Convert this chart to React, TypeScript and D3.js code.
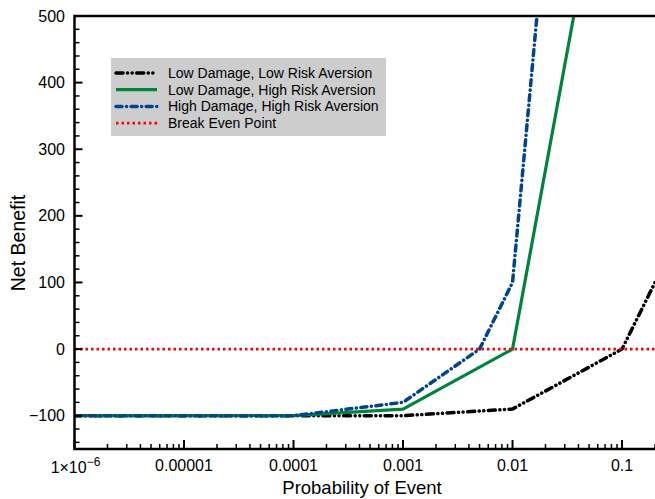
import React from 'react';
import * as d3 from 'd3';

// values
const probLowLow = [1e-6, 1e-5, 1e-4, 1e-3, 1e-2, 0.1, 0.2];
const netLowLow = [-100, -100, -100, -100, -90, 0, 100];

const probLowHigh = [1e-6, 1e-5, 1e-4, 1e-3, 1e-2, 0.05];
const netLowHigh = [-100, -100, -100, -90, 0, 625];

const probHighHigh = [1e-6, 1e-5, 1e-4, 1e-3, 5e-3, 1e-2, 0.02];
const netHighHigh = [-100, -100, -100, -80, 0, 100, 640];

const breakEven = 0;

const xTicks = [1e-6, 1e-5, 1e-4, 1e-3, 1e-2, 0.1];
const xTickLabels = ['1×10', '0.00001', '0.0001', '0.001', '0.01', '0.1'];
const yTicks = [-100, 0, 100, 200, 300, 400, 500];

const W = 655, H = 499;
const left = 74.5, right = 655, top = 16, bottom = 449;
const font = 'Liberation Sans, Arial, Helvetica, sans-serif';

export default function App() {
  const x = d3.scaleLog().domain([1e-6, 0.2]).range([left, right]);
  const y = d3.scaleLinear().domain([-150, 500]).range([bottom, top]);

  const line = d3.line<[number, number]>()
    .x(d => x(d[0]))
    .y(d => y(d[1]));
  const pts = (xs: number[], ys: number[]) => xs.map((v, i) => [v, ys[i]] as [number, number]);

  const series = [
    { label: 'Low Damage, Low Risk Aversion', d: pts(probLowLow, netLowLow), color: '#000000', dash: '7 4.5 0.1 4.5 0.1 4.5', cap: 'round', w: 3.5 },
    { label: 'Low Damage, High Risk Aversion', d: pts(probLowHigh, netLowHigh), color: '#00843d', dash: 'none', cap: 'butt', w: 3.2 },
    { label: 'High Damage, High Risk Aversion', d: pts(probHighHigh, netHighHigh), color: '#00448c', dash: '6 4.5 0.1 4.5', cap: 'round', w: 3.5 },
  ];

  // minor ticks
  const xMinor: number[] = [];
  for (let e = -6; e <= -1; e++) {
    for (let k = 2; k <= 9; k++) {
      const v = k * Math.pow(10, e);
      if (v <= 0.2) xMinor.push(v);
    }
  }
  const yMinor = d3.range(-140, 500, 20).filter(v => v % 100 !== 0);

  const legendRows = [
    ...series.map(s => ({ label: s.label, color: s.color, dash: s.dash, cap: s.cap, w: s.w })),
    { label: 'Break Even Point', color: '#ff0000', dash: '2.5 3', cap: 'butt', w: 2.6 },
  ];

  return (
    <svg width={W} height={H} style={{ position: 'absolute', left: 0, top: 0, background: '#fff' }} fontFamily={font}>
      <defs>
        <clipPath id="plot">
          <rect x={left} y={top} width={right - left} height={bottom - top} />
        </clipPath>
      </defs>

      {/* legend box */}
      <rect x={111} y={58} width={275} height={78} fill="#cdcdcd" />
      {legendRows.map((r, i) => {
        const cy = 73 + i * 16.7;
        return (
          <g key={r.label}>
            <line x1={116} x2={157} y1={cy} y2={cy} stroke={r.color} strokeWidth={r.w}
              strokeDasharray={r.dash} strokeLinecap={r.cap as any} />
            <text x={168} y={cy + 5} fontSize={14} fill="#000">{r.label}</text>
          </g>
        );
      })}

      <g clipPath="url(#plot)">
        {series.map(s => (
          <path key={s.label} d={line(s.d) || ''} fill="none" stroke={s.color} strokeWidth={s.w}
            strokeDasharray={s.dash} strokeLinecap={s.cap as any} strokeLinejoin="round" />
        ))}
        <line x1={left} x2={right} y1={y(breakEven)} y2={y(breakEven)} stroke="#ff0000"
          strokeWidth={2.6} strokeDasharray="2.5 3" />
      </g>

      {/* frame */}
      <path d={`M${right},${top}H${left}V${bottom}H${right}`} fill="none" stroke="#000" strokeWidth={2.5} />

      {/* y ticks */}
      {yTicks.map(v => (
        <g key={'y' + v}>
          <line x1={left} x2={left + 8} y1={y(v)} y2={y(v)} stroke="#000" strokeWidth={2} />
          <text x={65} y={y(v) + 5.5} fontSize={16} textAnchor="end">{v < 0 ? '\u2212' + Math.abs(v) : v}</text>
        </g>
      ))}
      {yMinor.map(v => (
        <line key={'ym' + v} x1={left} x2={left + 5} y1={y(v)} y2={y(v)} stroke="#000" strokeWidth={1.5} />
      ))}

      {/* x ticks */}
      {xTicks.map((v, i) => (
        <g key={'x' + v}>
          <line x1={x(v)} x2={x(v)} y1={bottom} y2={bottom - 9} stroke="#000" strokeWidth={2} />
          {i === 0 ? (
            <text x={x(v) + 1} y={473} fontSize={16} textAnchor="middle">
              {xTickLabels[i]}<tspan fontSize={12} dy={-7}>{'\u22126'}</tspan>
            </text>
          ) : (
            <text x={x(v)} y={471} fontSize={16} textAnchor="middle">{xTickLabels[i]}</text>
          )}
        </g>
      ))}
      {xMinor.map(v => (
        <line key={'xm' + v} x1={x(v)} x2={x(v)} y1={bottom} y2={bottom - 5} stroke="#000" strokeWidth={1.5} />
      ))}

      {/* axis titles */}
      <text x={362} y={494} fontSize={18.5} textAnchor="middle">Probability of Event</text>
      <text transform={`translate(25,243) rotate(-90)`} fontSize={19.5} textAnchor="middle">Net Benefit</text>
    </svg>
  );
}
